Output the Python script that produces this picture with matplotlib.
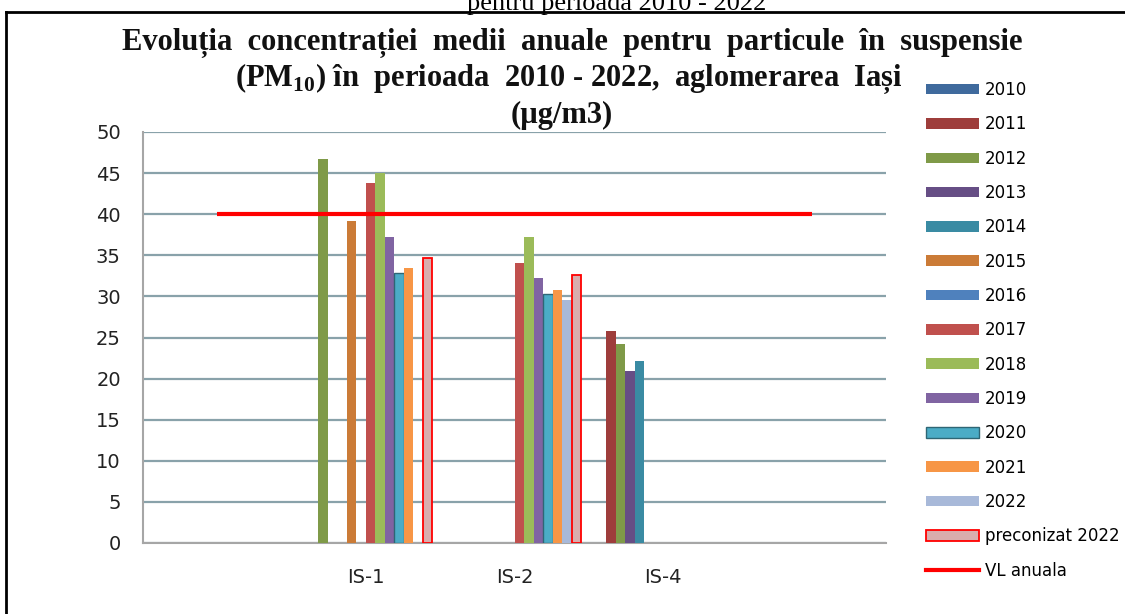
import matplotlib
matplotlib.use('Agg')
import matplotlib.pyplot as plt
import numpy as np
from matplotlib.patches import Patch
from matplotlib.lines import Line2D

nan = np.nan

# categories on the x axis (first and last slot are empty, as in the Excel chart)
categories = ['', 'IS-1', 'IS-2', 'IS-4', '']
years = ['2010', '2011', '2012', '2013', '2014', '2015', '2016',
         '2017', '2018', '2019', '2020', '2021', '2022']

# annual mean PM10 per station, one value per year (nan = no data)
is1 = [nan, nan, 46.7, nan, nan, 39.2, nan, 43.8, 45.0, 37.2, 32.9, 33.4, nan]
is2 = [nan, nan, nan, nan, nan, nan, nan, 34.1, 37.2, 32.2, 30.3, 30.8, 29.6]
is4 = [nan, 25.8, 24.2, 20.9, 22.1, nan, nan, nan, nan, nan, nan, nan, nan]
preconizat = [nan, 34.7, 32.6, nan, nan]
vl_anuala = [40, 40, 40, 40, 40]

year_colors = ['#3F6A9D', '#9E3D3B', '#7F9A48', '#664E85', '#3A8BA3',
               '#CB7B37', '#4F81BD', '#C0504D', '#9BBB59', '#8064A2',
               '#4BACC6', '#F79646', '#A8B9D9']

W, H = 1125, 614
fig = plt.figure(figsize=(W / 100, H / 100), dpi=100)
fig.patch.set_facecolor('white')


def px(x, y):
    return x / W, 1 - y / H


ax = fig.add_axes([143 / W, 1 - 543 / H, (886 - 143) / W, (543 - 132) / H])

x = np.arange(len(categories))
n_series = len(years) + 1
w = 0.064
handles = []
for j, yr in enumerate(years):
    vals = [nan, is1[j], is2[j], is4[j], nan]
    ec = '#2E6675' if yr == '2020' else 'none'
    ax.bar(x + (j - (n_series - 1) / 2) * w, vals, w, color=year_colors[j],
           edgecolor=ec, linewidth=1.0, zorder=3)
    handles.append(Patch(facecolor=year_colors[j], edgecolor=ec, linewidth=1.0, label=yr))

ax.bar(x + (n_series - 1) / 2 * w, preconizat, w, color='#D9ADAD',
       edgecolor='#FF0000', linewidth=1.3, zorder=3)
handles.append(Patch(facecolor='#D9ADAD', edgecolor='#FF0000', linewidth=1.3,
                     label='preconizat 2022'))

ax.plot(x, vl_anuala, color='#FF0000', linewidth=3, zorder=4, solid_capstyle='butt')
handles.append(Line2D([], [], color='#FF0000', linewidth=3, label='VL anuala'))

ax.set_xlim(-0.5, len(categories) - 0.5)
ax.set_ylim(0, 50)
ax.set_yticks(np.arange(0, 51, 5))
ax.set_xticks(x)
ax.set_xticklabels(categories)
ax.yaxis.grid(True, color='#89A2AA', linewidth=1.6, zorder=0)
ax.set_axisbelow(True)
for s in ['top', 'right']:
    ax.spines[s].set_visible(False)
for s in ['left', 'bottom']:
    ax.spines[s].set_color('#A6A6A6')
    ax.spines[s].set_linewidth(1.5)
ax.tick_params(axis='y', length=0, pad=16, labelsize=14, labelcolor='#222222')
ax.tick_params(axis='x', length=0, pad=18, labelsize=14, labelcolor='#222222')

leg = fig.legend(handles=handles, loc='upper left', bbox_to_anchor=px(926, 81),
                 frameon=False, fontsize=12, handlelength=3.2, handleheight=0.6,
                 handletextpad=0.35, labelspacing=0.98, borderpad=0, borderaxespad=0)

# title, three centred lines in a bold serif face
plt.rcParams['mathtext.fontset'] = 'custom'
plt.rcParams['mathtext.rm'] = 'Liberation Serif'
plt.rcParams['mathtext.bf'] = 'Liberation Serif:bold'
tfont = dict(family='Liberation Serif', weight='bold', fontsize=22, ha='center',
             va='baseline', color='#111111')
fig.text(*px(572, 50), 'Evoluția  concentrației  medii  anuale  pentru  particule  în  suspensie', **tfont)
fig.text(*px(569, 86), r'(PM$_{\mathbf{10}}$) în  perioada  2010 - 2022,  aglomerarea  Iași', **tfont)
fig.text(*px(562, 123), '(µg/m3)', **tfont)

# caption of the page above the chart, cut by the image edge
fig.text(*px(617, 10), 'pentru perioada 2010 - 2022', family='Liberation Serif',
         fontsize=19, ha='center', va='baseline', color='black')

# frame of the chart object
fig.add_artist(Line2D([6 / W, 6 / W], [0, 1 - 12 / H], color='black', linewidth=2,
                      transform=fig.transFigure))
fig.add_artist(Line2D([6 / W, 1], [1 - 12 / H, 1 - 12 / H], color='black', linewidth=2,
                      transform=fig.transFigure))

fig.savefig('out.png', dpi=100)
